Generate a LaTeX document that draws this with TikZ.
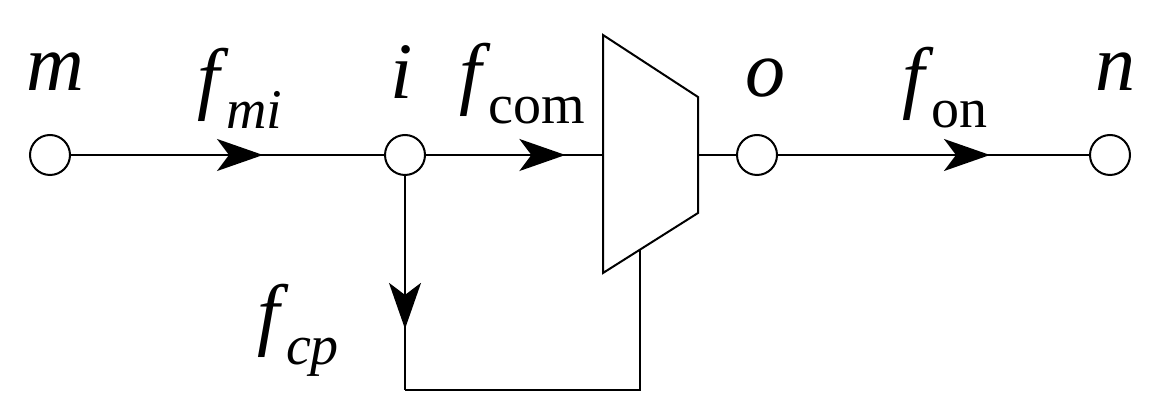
\documentclass[tikz,border=0pt]{standalone}
\usepackage{fontspec}
\setmainfont{Liberation Serif}
\usetikzlibrary{arrows.meta,decorations.markings}
\newcommand{\fsub}[2]{\textit{f}\kern-0.03em\raisebox{-0.3em}{\fontsize{28}{28}\selectfont #2}}
\tikzset{
 vtx/.style={circle,draw,line width=1pt,minimum size=20pt,inner sep=0pt,fill=white},
 lbl/.style={font=\fontsize{40}{40}\selectfont,inner sep=0pt},
 ln/.style={line width=1pt},
 mid/.style={ln,postaction={decorate},decoration={markings,mark=at position #1 with {\arrow{Stealth[length=23pt,width=16pt,inset=6pt]}}}}
}
\begin{document}
\begin{tikzpicture}[x=0.5pt,y=-0.5pt]
\useasboundingbox (0,0) rectangle (1168,416);
\coordinate (muxin) at (603,155);
\coordinate (muxout) at (698,155);
\coordinate (mb) at (640,250);
\coordinate (c1) at (640,390);
\coordinate (c2) at (405,390);
\draw[mid=0.6] (50,155) -- (405,155);
\draw[mid=0.81] (405,155) -- (muxin);
\draw[ln] (muxout) -- (757,155);
\draw[mid=0.66] (757,155) -- (1110,155);
\draw[mid=0.74] (405,155) -- (c2);
\draw[ln] (c2) -- (c1) -- (mb);
\draw[ln] (603,35) -- (698,97) -- (698,213) -- (603,273) -- cycle;
\node[vtx] (m) at (50,155) {};
\node[vtx] (i) at (405,155) {};
\node[vtx] (o) at (757,155) {};
\node[vtx] (n) at (1110,155) {};
\node[lbl] (lm) at (55,72) {\textit{m}};
\node[lbl] (li) at (402,72) {\textit{i}};
\node[lbl] (lo) at (765,78) {\textit{o}};
\node[lbl] (ln2) at (1115,72) {\textit{n}};
\node[lbl] (fmi) at (240,88) {\fsub{f}{\textit{mi}}};
\node[lbl] (fcom) at (522,84) {\fsub{f}{com}};
\node[lbl] (fon) at (945,88) {\fsub{f}{on}};
\node[lbl] (fcp) at (298,330) {\fsub{f}{\textit{cp}}};
\end{tikzpicture}
\end{document}
